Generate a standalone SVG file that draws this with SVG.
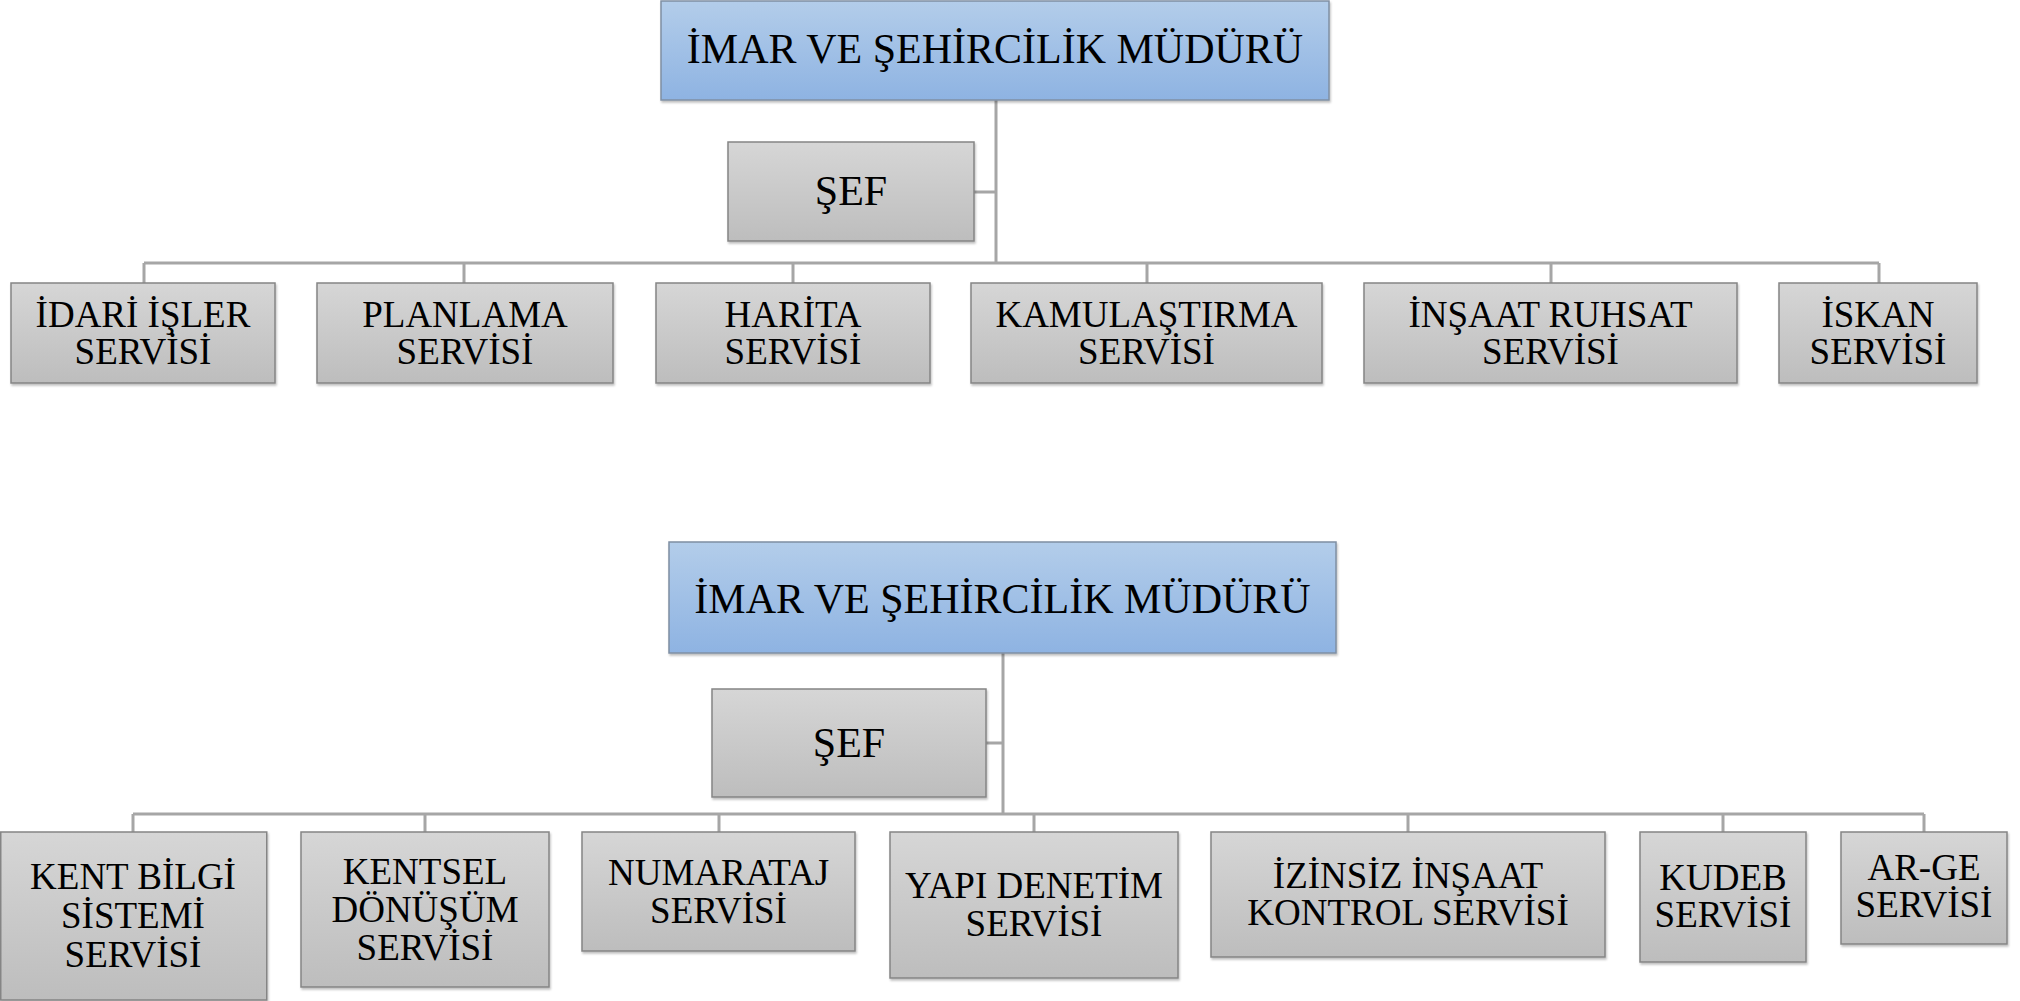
<svg xmlns="http://www.w3.org/2000/svg" width="2020" height="1001" viewBox="0 0 2020 1001">
<defs>
<linearGradient id="gBlue" x1="0" y1="0" x2="0" y2="1">
<stop offset="0" stop-color="#b3cdea"/>
<stop offset="1" stop-color="#8eb3e2"/>
</linearGradient>
<linearGradient id="gGray" x1="0" y1="0" x2="0" y2="1">
<stop offset="0" stop-color="#d6d6d6"/>
<stop offset="1" stop-color="#bdbdbd"/>
</linearGradient>
<filter id="sh" x="-5%" y="-5%" width="110%" height="115%">
<feDropShadow dx="1" dy="2" stdDeviation="1" flood-color="#000" flood-opacity="0.25"/>
</filter>
</defs>
<style>
.head{fill:url(#gBlue);stroke:#7f8fa3;stroke-width:1.5;filter:url(#sh)}
.box{fill:url(#gGray);stroke:#858585;stroke-width:1.5;filter:url(#sh)}
.t{font-family:"Liberation Serif","Times New Roman",serif;fill:#000;text-anchor:middle}
.big{font-size:42px}
.mid{font-size:37px}
.sm{font-size:37px}
.c{fill:none;stroke:#a6a6a6;stroke-width:3}
</style>
<rect width="2020" height="1001" fill="#fff"/>

<g id="connectors">
<path class="c" d="M996 100V263M974 192H996"/>
<path class="c" d="M144 263H1879M144 263V283M464 263V283M793 263V283M1147 263V283M1551 263V283M1879 263V283"/>
<path class="c" d="M1003 653V814M986 743H1003"/>
<path class="c" d="M133 814H1924M133 814V832M425 814V832M719 814V832M1034 814V832M1408 814V832M1723 814V832M1924 814V832"/>
</g>

<g id="n-mudur1">
<rect class="head" x="661" y="1" width="668" height="99"/>
<text class="t big" x="995" y="63">İMAR VE ŞEHİRCİLİK MÜDÜRÜ</text>
</g>
<g id="n-sef1">
<rect class="box" x="728" y="142" width="246" height="99"/>
<text class="t big" x="851" y="205">ŞEF</text>
</g>
<g id="n-idari">
<rect class="box" x="11" y="283" width="264" height="100"/>
<text class="t mid" x="143" y="327">İDARİ İŞLER</text>
<text class="t mid" x="143" y="364">SERVİSİ</text>
</g>
<g id="n-planlama">
<rect class="box" x="317" y="283" width="296" height="100"/>
<text class="t mid" x="465" y="327">PLANLAMA</text>
<text class="t mid" x="465" y="364">SERVİSİ</text>
</g>
<g id="n-harita">
<rect class="box" x="656" y="283" width="274" height="100"/>
<text class="t mid" x="793" y="327">HARİTA</text>
<text class="t mid" x="793" y="364">SERVİSİ</text>
</g>
<g id="n-kamu">
<rect class="box" x="971" y="283" width="351" height="100"/>
<text class="t mid" x="1146.5" y="327">KAMULAŞTIRMA</text>
<text class="t mid" x="1146.5" y="364">SERVİSİ</text>
</g>
<g id="n-insaat">
<rect class="box" x="1364" y="283" width="373" height="100"/>
<text class="t mid" x="1550.5" y="327">İNŞAAT RUHSAT</text>
<text class="t mid" x="1550.5" y="364">SERVİSİ</text>
</g>
<g id="n-iskan">
<rect class="box" x="1779" y="283" width="198" height="100"/>
<text class="t mid" x="1878" y="327">İSKAN</text>
<text class="t mid" x="1878" y="364">SERVİSİ</text>
</g>

<g id="n-mudur2">
<rect class="head" x="669" y="542" width="667" height="111"/>
<text class="t big" x="1002.5" y="613">İMAR VE ŞEHİRCİLİK MÜDÜRÜ</text>
</g>
<g id="n-sef2">
<rect class="box" x="712" y="689" width="274" height="108"/>
<text class="t big" x="849" y="757">ŞEF</text>
</g>
<g id="n-kent">
<rect class="box" x="0.75" y="832" width="266" height="168"/>
<text class="t sm" x="133" y="889">KENT BİLGİ</text>
<text class="t sm" x="133" y="928">SİSTEMİ</text>
<text class="t sm" x="133" y="967">SERVİSİ</text>
</g>
<g id="n-kentsel">
<rect class="box" x="301" y="832" width="248" height="155"/>
<text class="t sm" x="425" y="884">KENTSEL</text>
<text class="t sm" x="425" y="922">DÖNÜŞÜM</text>
<text class="t sm" x="425" y="960">SERVİSİ</text>
</g>
<g id="n-numarataj">
<rect class="box" x="582" y="832" width="273" height="119"/>
<text class="t sm" x="718.5" y="885">NUMARATAJ</text>
<text class="t sm" x="718.5" y="923">SERVİSİ</text>
</g>
<g id="n-yapi">
<rect class="box" x="890" y="832" width="288" height="146"/>
<text class="t sm" x="1034" y="898">YAPI DENETİM</text>
<text class="t sm" x="1034" y="936">SERVİSİ</text>
</g>
<g id="n-izinsiz">
<rect class="box" x="1211" y="832" width="394" height="125"/>
<text class="t sm" x="1408" y="888">İZİNSİZ İNŞAAT</text>
<text class="t sm" x="1408" y="925">KONTROL SERVİSİ</text>
</g>
<g id="n-kudeb">
<rect class="box" x="1640" y="832" width="166" height="130"/>
<text class="t sm" x="1723" y="890">KUDEB</text>
<text class="t sm" x="1723" y="927">SERVİSİ</text>
</g>
<g id="n-arge">
<rect class="box" x="1841" y="832" width="166" height="112"/>
<text class="t sm" x="1924" y="880">AR-GE</text>
<text class="t sm" x="1924" y="917">SERVİSİ</text>
</g>
</svg>
